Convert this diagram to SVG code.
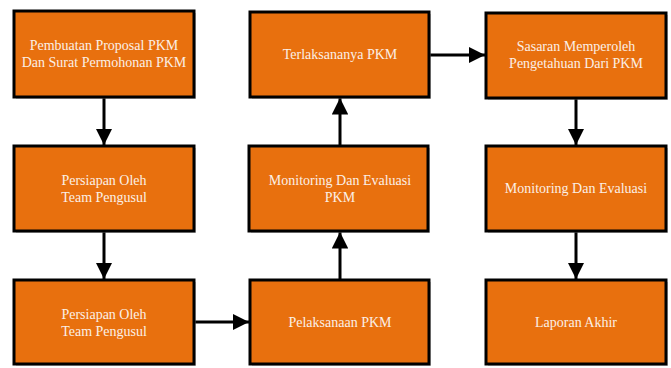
<svg xmlns="http://www.w3.org/2000/svg" width="671" height="368" viewBox="0 0 671 368">
<style>
.box{fill:#E8700E;stroke:#000;stroke-width:3}
.sh{fill:#999;opacity:0.5}
.t{font-family:"Liberation Serif","Times New Roman",serif;font-size:14px;fill:#FBEFE6;text-anchor:middle}
.c{stroke:#000;stroke-width:3;fill:none;marker-end:url(#ah)}
</style>
<defs>
<marker id="ah" viewBox="0 0 10 10" refX="10" refY="5" markerWidth="5.5" markerHeight="5.5" markerUnits="strokeWidth" orient="auto">
<path d="M0,0 L10,5 L0,10 z" fill="#000"/>
</marker>
</defs>
<rect width="671" height="368" fill="#fff"/>
<g id="connectors">
<line class="c" x1="104" y1="97" x2="104" y2="145"/>
<line class="c" x1="104" y1="231" x2="104" y2="279"/>
<line class="c" x1="194" y1="322" x2="249" y2="322"/>
<line class="c" x1="340" y1="280" x2="340" y2="232"/>
<line class="c" x1="340" y1="146" x2="340" y2="98"/>
<line class="c" x1="430" y1="55" x2="485" y2="55"/>
<line class="c" x1="576" y1="98" x2="576" y2="145"/>
<line class="c" x1="576" y1="231" x2="576" y2="279"/>
</g>
<g id="n1"><rect class="sh" x="16" y="13" width="180" height="86"/><rect class="box" x="14" y="11" width="180" height="86"/><text class="t" x="104" y="50">Pembuatan Proposal PKM</text><text class="t" x="104" y="67">Dan Surat Permohonan PKM</text></g>
<g id="n2"><rect class="sh" x="16" y="148" width="180" height="85"/><rect class="box" x="14" y="146" width="180" height="85"/><text class="t" x="104" y="185">Persiapan Oleh</text><text class="t" x="104" y="202">Team Pengusul</text></g>
<g id="n3"><rect class="sh" x="16" y="282" width="180" height="84"/><rect class="box" x="14" y="280" width="180" height="84"/><text class="t" x="104" y="319">Persiapan Oleh</text><text class="t" x="104" y="336">Team Pengusul</text></g>
<g id="n4"><rect class="sh" x="252" y="282" width="179" height="84"/><rect class="box" x="250" y="280" width="179" height="84"/><text class="t" x="340" y="327">Pelaksanaan PKM</text></g>
<g id="n5"><rect class="sh" x="251" y="148" width="179" height="85"/><rect class="box" x="249" y="146" width="179" height="85"/><text class="t" x="340" y="185">Monitoring Dan Evaluasi</text><text class="t" x="340" y="202">PKM</text></g>
<g id="n6"><rect class="sh" x="252" y="14" width="179" height="85"/><rect class="box" x="250" y="12" width="179" height="85"/><text class="t" x="340" y="59">Terlaksananya PKM</text></g>
<g id="n7"><rect class="sh" x="488" y="15" width="180" height="85"/><rect class="box" x="486" y="13" width="180" height="85"/><text class="t" x="576" y="51">Sasaran Memperoleh</text><text class="t" x="576" y="68">Pengetahuan Dari PKM</text></g>
<g id="n8"><rect class="sh" x="488" y="148" width="180" height="85"/><rect class="box" x="486" y="146" width="180" height="85"/><text class="t" x="576" y="193">Monitoring Dan Evaluasi</text></g>
<g id="n9"><rect class="sh" x="488" y="282" width="180" height="84"/><rect class="box" x="486" y="280" width="180" height="84"/><text class="t" x="576" y="327">Laporan Akhir</text></g>
</svg>
